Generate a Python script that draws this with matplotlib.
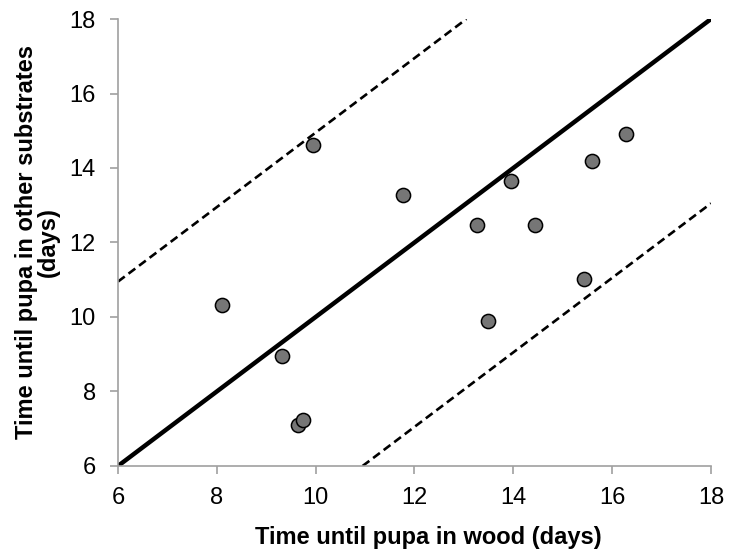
import numpy as np
import matplotlib.pyplot as plt

plt.rcParams['font.family'] = ['Liberation Sans', 'DejaVu Sans']

# time until pupa (days)
wood = [9.95, 11.76, 13.27, 8.10, 9.32, 9.64, 9.75, 13.48, 13.95, 14.43, 15.44, 15.59, 16.28]
other = [14.61, 13.27, 12.48, 10.31, 8.96, 7.11, 7.23, 9.90, 13.66, 12.48, 11.02, 14.18, 14.90]

lims = [6, 18]
ticks = [6, 8, 10, 12, 14, 16, 18]
band = 4.95  # offset of the dashed lines from y = x

fig = plt.figure(figsize=(7.31, 5.59), dpi=100)
ax = fig.add_axes([0.1614, 0.1664, 0.8112, 0.7996])

# 1:1 line and the two dashed limits
x = np.array(lims, dtype=float)
ax.plot(x, x, color='black', lw=3.2, solid_capstyle='butt', zorder=2)
xu = np.array([lims[0], lims[1] - band])
ax.plot(xu, xu + band, color='black', lw=1.9, dashes=(3.2, 1.8), zorder=2)
xl = np.array([lims[0] + band, lims[1]])
ax.plot(xl, xl - band, color='black', lw=1.9, dashes=(3.2, 1.8), zorder=2)

ax.plot(wood, other, 'o', ms=10.2, mfc='#767676', mec='black', mew=1.1,
        zorder=3, clip_on=False)

ax.set_xlim(lims)
ax.set_ylim(lims)
ax.set_xticks(ticks)
ax.set_yticks(ticks)

for s in ['top', 'right']:
    ax.spines[s].set_visible(False)
for s in ['left', 'bottom']:
    ax.spines[s].set_color('#a0a0a0')
    ax.spines[s].set_linewidth(1.2)
ax.tick_params(direction='out', length=6, width=1.2, color='#a0a0a0',
               labelsize=17)
ax.tick_params(axis='x', pad=9)
ax.tick_params(axis='y', pad=10)

ax.set_xlabel('Time until pupa in wood (days)', fontsize=17,
              fontweight='bold')
ax.xaxis.set_label_coords(0.523, -0.135)
ax.set_ylabel('Time until pupa in other substrates\n(days)', fontsize=17,
              fontweight='bold', linespacing=0.95)
ax.yaxis.set_label_coords(-0.098, 0.5)

fig.savefig('out.png', dpi=100)
